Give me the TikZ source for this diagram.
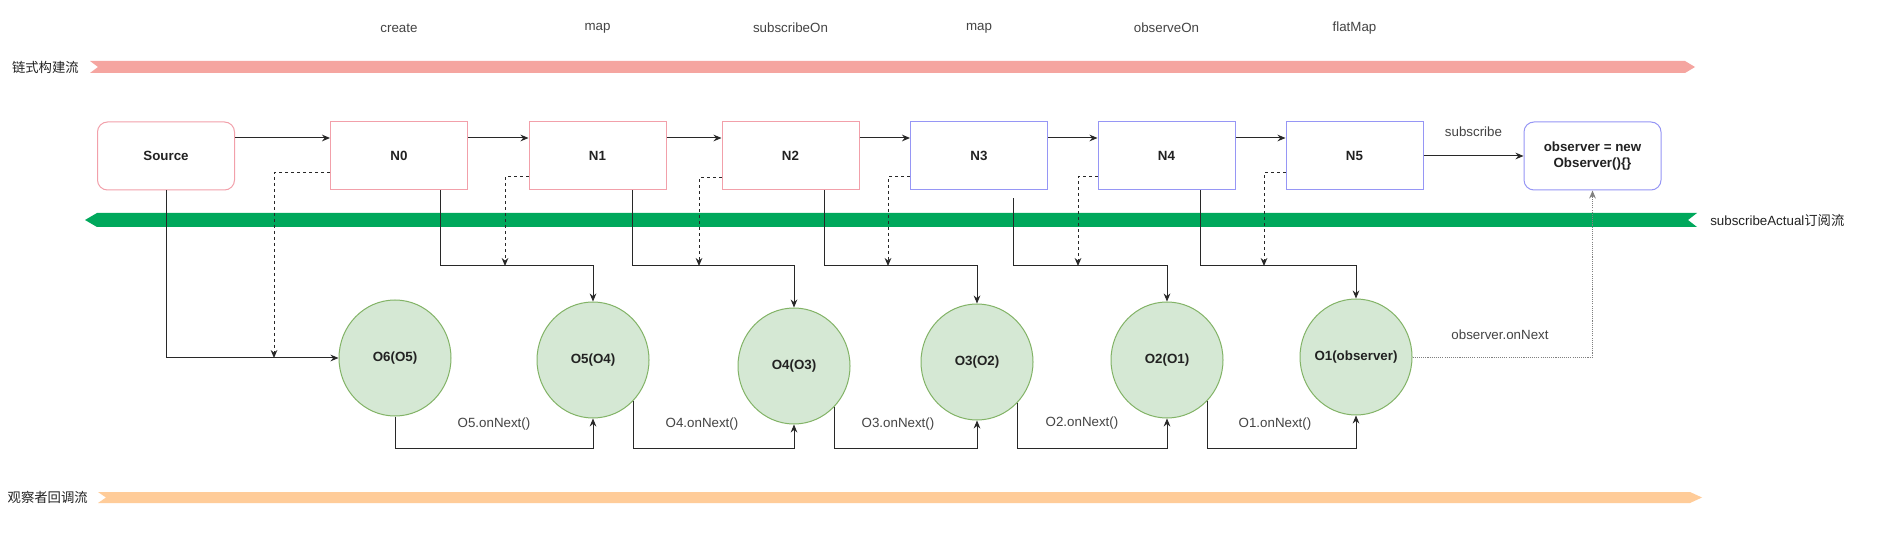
\documentclass[tikz,border=0pt]{standalone}
\usepackage{fontspec}
\setmainfont{Liberation Sans}
\newfontfamily\cjk{Noto Sans CJK SC}
\usetikzlibrary{shapes.geometric,arrows.meta,calc}
\definecolor{pinkband}{RGB}{245,165,160}
\definecolor{greenband}{RGB}{0,168,92}
\definecolor{orangeband}{RGB}{255,204,153}
\definecolor{pinkline}{RGB}{242,160,170}
\definecolor{blueline}{RGB}{150,150,245}
\definecolor{ellfill}{RGB}{213,232,212}
\definecolor{ellline}{RGB}{130,179,102}
\definecolor{txtcol}{RGB}{34,34,34}
\definecolor{lblcol}{RGB}{68,68,68}
\definecolor{conncol}{RGB}{40,40,40}
\tikzset{
  box/.style={draw, line width=0.75pt, minimum width=102.75pt, minimum height=51pt, inner sep=0pt, font=\bfseries, text=txtcol},
  pinkbox/.style={box, draw=pinkline},
  bluebox/.style={box, draw=blueline},
  obsnode/.style={ellipse, draw=ellline, fill=ellfill, line width=0.75pt, minimum width=84pt, minimum height=87pt, inner sep=0pt, font=\bfseries, text=txtcol},
  conn/.style={draw=conncol, line width=0.75pt, -{Stealth[length=6pt,width=5pt]}},
  dconn/.style={conn, dash pattern=on 2.25pt off 2.25pt},
  tconn/.style={draw=gray, line width=0.7pt, dash pattern=on 0.8pt off 0.8pt, -{Stealth[length=6pt,width=5pt]}},
  lab/.style={text=lblcol, inner sep=0pt},
  side/.style={text=txtcol, inner sep=0pt},
}
\begin{document}
\begin{tikzpicture}[x=0.75pt,y=-0.75pt]
\fill[white] (0,0) rectangle (1886,552);
\useasboundingbox (0,0) rectangle (1886,552);

% bands
\fill[pinkband] (90,61) -- (1685,61) -- (1695,67) -- (1685,73) -- (90,73) -- (98,67) -- cycle;
\fill[greenband] (85,220) -- (97,213) -- (1697,213) -- (1688,220) -- (1697,227) -- (97,227) -- cycle;
\fill[orangeband] (98,492) -- (1690,492) -- (1702,497.5) -- (1690,503) -- (98,503) -- (106,497.5) -- cycle;

\node[side, anchor=east] (lchain) at (79,67) {\cjk 链式构建流};
\node[side, anchor=west] (lsub) at (1710,220) {subscribeActual{\cjk 订阅流}};
\node[side, anchor=east] (lobs) at (88,497) {\cjk 观察者回调流};

% operator labels
\node[lab] (t0) at (399,28) {create};
\node[lab] (t1) at (597.5,28) {map};
\node[lab] (t2) at (790.5,28) {subscribeOn};
\node[lab] (t3) at (979,28) {map};
\node[lab] (t4) at (1166.5,28) {observeOn};
\node[lab] (t5) at (1354.5,28) {flatMap};

% boxes
\node[pinkbox, rounded corners=7.5pt] (src) at (166,156) {Source};
\node[pinkbox] (n0) at (399,156) {N0};
\node[pinkbox] (n1) at (597.5,156) {N1};
\node[pinkbox] (n2) at (790.5,156) {N2};
\node[bluebox] (n3) at (979,156) {N3};
\node[bluebox] (n4) at (1166.5,156) {N4};
\node[bluebox] (n5) at (1354.5,156) {N5};
\node[bluebox, rounded corners=7.5pt, align=center] (obs) at (1592.5,156) {observer = new\\Observer()\{\}};

% observers
\node[obsnode] (o6) at (395,358) {\makebox[0pt]{O6(O5)}};
\node[obsnode] (o5) at (593,360) {\makebox[0pt]{O5(O4)}};
\node[obsnode] (o4) at (794,366) {\makebox[0pt]{O4(O3)}};
\node[obsnode] (o3) at (977,362) {\makebox[0pt]{O3(O2)}};
\node[obsnode] (o2) at (1167,360) {\makebox[0pt]{O2(O1)}};
\node[obsnode] (o1) at (1356,357) {\makebox[0pt]{O1(observer)}};

% chain arrows
\draw[conn] ($(src.east)+(0,-18)$) -- ($(n0.west)+(0,-18)$);
\draw[conn] ($(n0.east)+(0,-18)$) -- ($(n1.west)+(0,-18)$);
\draw[conn] ($(n1.east)+(0,-18)$) -- ($(n2.west)+(0,-18)$);
\draw[conn] ($(n2.east)+(0,-18)$) -- ($(n3.west)+(0,-18)$);
\draw[conn] ($(n3.east)+(0,-18)$) -- ($(n4.west)+(0,-18)$);
\draw[conn] ($(n4.east)+(0,-18)$) -- ($(n5.west)+(0,-18)$);
\draw[conn] (n5.east) -- node[lab, above=14pt] (lsubscribe) {subscribe} (obs.west);

% junctions
\coordinate (j5) at (593,266);
\coordinate (j4) at (794,266);
\coordinate (j3) at (977,266);
\coordinate (j2) at (1167,266);
\coordinate (j1) at (1356,266);
\coordinate (d0) at (274,358);
\coordinate (d1) at (505,266);
\coordinate (d2) at (699,266);
\coordinate (d3) at (888,266);
\coordinate (d4) at (1078,266);
\coordinate (d5) at (1264,266);
\coordinate (k5) at (593,448);
\coordinate (k4) at (794,448);
\coordinate (k3) at (977,448);
\coordinate (k2) at (1167,448);
\coordinate (k1) at (1356,448);

% subscribe down lines
\draw[conn] (src.south) |- (o6.west);
\draw[conn] ($(n0.south)+(41,0)$) |- (j5) -- (o5.north);
\draw[conn] ($(n1.south)+(34.5,0)$) |- (j4) -- (o4.north);
\draw[conn] ($(n2.south)+(33.5,0)$) |- (j3) -- (o3.north);
\draw[conn] ($(n3.south)+(34,8)$) |- (j2) -- (o2.north);
\draw[conn] ($(n4.south)+(33.5,0)$) |- (j1) -- (o1.north);

% dashed
\draw[dconn] ($(n0.west)+(0,17)$) -| (d0);
\draw[dconn] ($(n1.west)+(0,21)$) -| (d1);
\draw[dconn] ($(n2.west)+(0,22)$) -| (d2);
\draw[dconn] ($(n3.west)+(0,21)$) -| (d3);
\draw[dconn] ($(n4.west)+(0,21)$) -| (d4);
\draw[dconn] ($(n5.west)+(0,17)$) -| (d5);

% onNext callbacks
\draw[conn] (o6.south) |- (k5) -- (o5.south);
\draw[conn] (o5.-45) |- (k4) -- (o4.south);
\draw[conn] (o4.-45) |- (k3) -- (o3.south);
\draw[conn] (o3.-45) |- (k2) -- (o2.south);
\draw[conn] (o2.-45) |- (k1) -- (o1.south);
\draw[tconn] (o1.east) -| (obs.south);

\node[lab] (b5) at (494,424) {O5.onNext()};
\node[lab] (b4) at (702,424) {O4.onNext()};
\node[lab] (b3) at (898,424) {O3.onNext()};
\node[lab] (b2) at (1082,423) {O2.onNext()};
\node[lab] (b1) at (1275,424) {O1.onNext()};
\node[lab] (bobs) at (1500,335) {observer.onNext};
\end{tikzpicture}
\end{document}
